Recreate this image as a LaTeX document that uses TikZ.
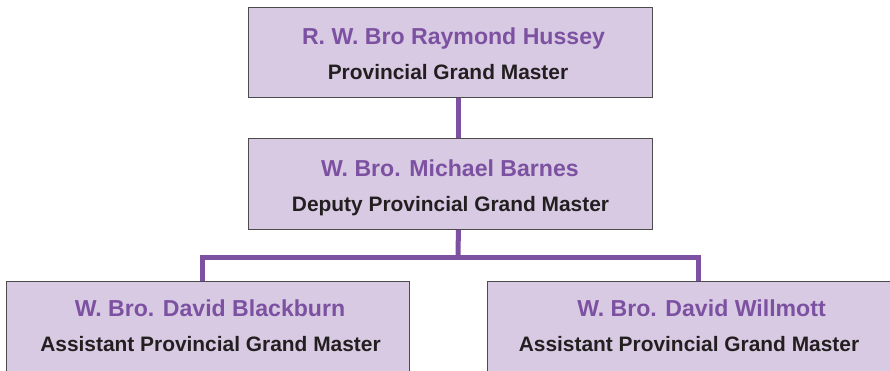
\documentclass[tikz,border=0pt]{standalone}
\usepackage{fontspec}
\setmainfont{Liberation Sans}
\definecolor{boxfill}{HTML}{D8CAE3}
\definecolor{purp}{HTML}{7D51A1}
\definecolor{txt}{HTML}{231F20}
\begin{document}
\begin{tikzpicture}[x=1pt,y=-1pt,
 box/.style={draw=black!70, line width=0.8pt, fill=boxfill, rectangle, inner sep=0pt, anchor=north west},
 pname/.style={font=\fontsize{23.1}{27}\selectfont\bfseries, text=purp, inner sep=0pt, anchor=base},
 prole/.style={font=\fontsize{20.9}{25}\selectfont\bfseries, text=txt, inner sep=0pt, anchor=base},
 link/.style={draw=purp, line width=5pt, line join=miter}]
\useasboundingbox (0,0) rectangle (890,371);
\clip (0,0) rectangle (890,371);
\coordinate (j) at (458,257.5);
\node[box, minimum width=404pt, minimum height=90pt] (top) at (248,7) {};
\node[box, minimum width=404pt, minimum height=91pt] (mid) at (248,138) {};
\node[box, minimum width=403pt, minimum height=110pt] (bl) at (6,281) {};
\node[box, minimum width=422pt, minimum height=110pt] (br) at (487,281) {};
\draw[link] ([xshift=8pt]top.south) -- ([xshift=8pt]mid.north);
\draw[link] ([xshift=8pt]mid.south) -- (j);
\draw[link] ([xshift=-5pt]bl.north) |- (j) -| (br.north);
\node[pname] (n1) at (453.5,45) {R. W. Bro Raymond Hussey};
\node[prole] (r1) at (448,80) {Provincial Grand Master};
\node[pname] (n2) at (450,176.7) {W. Bro. Michael Barnes};
\node[prole] (r2) at (450.5,211.7) {Deputy Provincial Grand Master};
\node[pname] (n3) at (210,316) {W. Bro. David Blackburn};
\node[prole] (r3) at (210.5,351.7) {Assistant Provincial Grand Master};
\node[pname] (n4) at (701.5,316) {W. Bro. David Willmott};
\node[prole] (r4) at (689,351.7) {Assistant Provincial Grand Master};
\end{tikzpicture}
\end{document}
